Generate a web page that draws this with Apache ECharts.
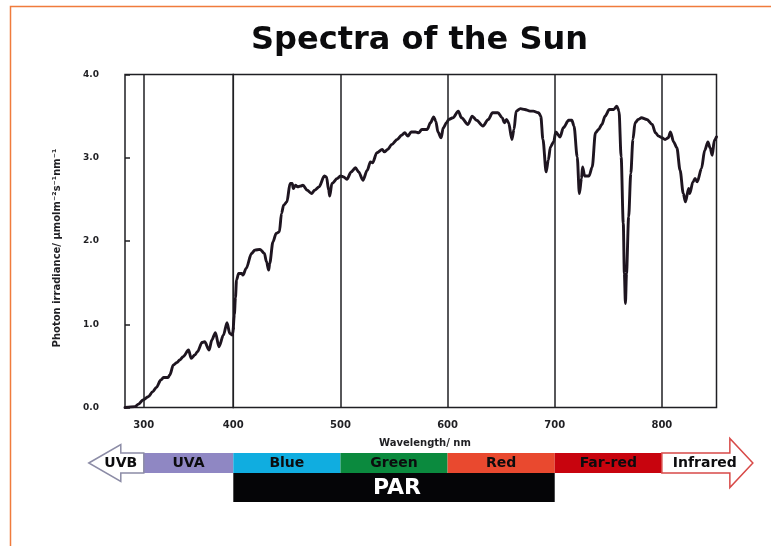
<!DOCTYPE html>
<html>
<head>
<meta charset="utf-8">
<script src="https://cdn.jsdelivr.net/npm/echarts@6/dist/echarts.min.js"></script>
<style>
  html, body { margin: 0; padding: 0; background: #ffffff; }
  #chart { width: 771px; height: 546px; }
</style>
</head>
<body>
<div id="chart"></div>
<script>
// Solar photon irradiance at ground level, µmol m-2 s-1 nm-1, against wavelength in nm
const wavelengths = [
  279, 290, 294, 299, 305, 310, 314, 319, 322, 327, 329, 333, 337, 340, 344, 350,
  353, 357, 360, 365, 368, 373, 376, 380, 384, 389, 393, 396, 399, 400,
  401, 402, 403, 405, 408, 409, 412, 417, 420, 425, 429, 431, 433, 434, 437, 440,
  443, 445, 447, 450, 453, 455, 456, 458, 460, 463, 465, 469, 473, 476, 480, 485,
  487, 489, 490, 492, 497, 500, 503, 506, 510, 514, 517, 521, 525, 528, 530, 534,
  539, 541, 544, 548, 553, 557, 560, 563, 566, 570, 573, 576, 581, 584, 587, 589,
  591, 594, 596, 599, 601, 605, 610, 613, 619, 623, 627, 633, 638, 642, 644, 647,
  651, 653, 655, 657, 660, 662, 664, 668, 672, 677, 680, 685, 687, 689, 692, 694,
  696, 699, 701, 705, 708, 713, 716, 718, 721, 723, 725, 726, 728, 732, 735, 738,
  741, 744, 747, 751, 755, 758, 760, 762, 764, 765, 766, 767, 769, 771, 773, 775,
  778, 781, 786, 791, 794, 797, 800, 803, 806, 808, 811, 814, 817, 820, 822, 825,
  826, 829, 831, 833, 837, 840, 843, 845, 847, 849, 851
];
const irradiance = [
  0.00, 0.01, 0.04, 0.09, 0.13, 0.19, 0.24, 0.33, 0.36, 0.36, 0.39, 0.51, 0.54, 0.57, 0.61, 0.69,
  0.59, 0.63, 0.67, 0.78, 0.79, 0.69, 0.81, 0.90, 0.73, 0.87, 1.02, 0.89, 0.87, 0.95,
  1.12, 1.32, 1.53, 1.61, 1.61, 1.59, 1.67, 1.85, 1.89, 1.90, 1.85, 1.75, 1.65, 1.73, 1.99, 2.09,
  2.11, 2.33, 2.43, 2.47, 2.69, 2.69, 2.63, 2.67, 2.65, 2.66, 2.67, 2.61, 2.57, 2.61, 2.65, 2.78,
  2.77, 2.61, 2.54, 2.69, 2.75, 2.78, 2.77, 2.74, 2.83, 2.88, 2.83, 2.73, 2.85, 2.95, 2.94, 3.06,
  3.10, 3.07, 3.10, 3.16, 3.22, 3.27, 3.30, 3.26, 3.31, 3.31, 3.30, 3.34, 3.34, 3.42, 3.49, 3.44,
  3.31, 3.24, 3.36, 3.42, 3.46, 3.48, 3.56, 3.48, 3.40, 3.50, 3.45, 3.38, 3.46, 3.54, 3.54, 3.54,
  3.48, 3.42, 3.46, 3.42, 3.22, 3.34, 3.56, 3.59, 3.58, 3.56, 3.56, 3.54, 3.50, 3.22, 2.83, 2.97,
  3.13, 3.19, 3.31, 3.25, 3.36, 3.45, 3.45, 3.38, 3.01, 2.57, 2.75, 2.89, 2.78, 2.78, 2.89, 3.30,
  3.34, 3.40, 3.50, 3.58, 3.58, 3.62, 3.56, 3.01, 2.21, 1.61, 1.25, 1.61, 2.29, 2.81, 3.22, 3.42,
  3.46, 3.48, 3.46, 3.40, 3.30, 3.26, 3.24, 3.22, 3.24, 3.31, 3.19, 3.12, 2.85, 2.57, 2.47, 2.63,
  2.57, 2.71, 2.75, 2.71, 2.87, 3.09, 3.19, 3.12, 3.03, 3.21, 3.25
];

// Axis ranges and tick values; the UV part of the axis is drawn at its own scale
const uvRange = [279, 400];
const visRange = [400, 851];
const uvTicks = [300, 400];
const visTicks = [500, 600, 700, 800];
const yTicks = [0, 1, 2, 3, 4];

// Spectral bands shown under the axis
const bandNames = ['UVA', 'Blue', 'Green', 'Red', 'Far-red'];
const bandEdges = [300, 400, 500, 600, 700, 800];
const bandColors = ['#8f87c3', '#10ade0', '#0b8a3e', '#e9492f', '#c8040e'];
const parRange = [400, 700];

const FONT = 'DejaVu Sans';
const INK = '#1f1f23';

const uvData = [], visData = [];
wavelengths.forEach((w, i) => {
  if (w <= 400) uvData.push([w, irradiance[i]]);
  if (w >= 400) visData.push([w, irradiance[i]]);
});

const chart = echarts.init(document.getElementById('chart'), null, { renderer: 'canvas' });

const gridBase = { top: 74.5, height: 333, show: true, borderColor: INK, borderWidth: 1.5, backgroundColor: 'transparent' };
const xLabel = { fontFamily: FONT, fontWeight: 'bold', fontSize: 10, color: INK, margin: 13 };
const curveStyle = { color: '#1e1520', width: 2.9, join: 'round', cap: 'round' };
const gridLineMark = (values) => ({
  silent: true, symbol: 'none', animation: false,
  label: { show: false },
  lineStyle: { color: INK, width: 1.5, type: 'solid' },
  emphasis: { disabled: true },
  data: values.map(v => ({ xAxis: v }))
});

chart.setOption({
  animation: false,
  backgroundColor: '#ffffff',
  title: {
    text: 'Spectra of the Sun',
    left: 246, top: 20,
    textStyle: { fontFamily: FONT, fontWeight: 'bold', fontSize: 32, color: '#0b0b0d' }
  },
  grid: [
    Object.assign({ left: 125, width: 108.3 }, gridBase),
    Object.assign({ left: 233.3, width: 483.2 }, gridBase)
  ],
  xAxis: [
    {
      type: 'value', gridIndex: 0, min: uvRange[0], max: uvRange[1],
      axisLine: { show: false }, axisTick: { show: false }, splitLine: { show: false },
      axisLabel: Object.assign({ customValues: uvTicks }, xLabel)
    },
    {
      type: 'value', gridIndex: 1, min: visRange[0], max: visRange[1],
      axisLine: { show: false }, axisTick: { show: false }, splitLine: { show: false },
      axisLabel: Object.assign({ customValues: visTicks }, xLabel)
    }
  ],
  yAxis: [
    {
      type: 'value', gridIndex: 0, min: yTicks[0], max: yTicks[yTicks.length - 1], interval: 1,
      name: 'Photon irradiance/ \u03bcmolm\u207b\u00b2s\u207b\u00b9nm\u207b\u00b9',
      nameLocation: 'middle', nameGap: 63, nameRotate: 90,
      nameTextStyle: { fontFamily: FONT, fontWeight: 'bold', fontSize: 10, color: INK, padding: [0, 14, 0, 0] },
      axisLine: { show: false },
      axisTick: { show: true, inside: true, length: 5, lineStyle: { color: INK, width: 1.5 } },
      splitLine: { show: false },
      axisLabel: {
        fontFamily: FONT, fontWeight: 'bold', fontSize: 9, color: INK, margin: 26,
        formatter: v => v.toFixed(1)
      }
    },
    {
      type: 'value', gridIndex: 1, min: yTicks[0], max: yTicks[yTicks.length - 1], interval: 1,
      show: false
    }
  ],
  series: [
    {
      type: 'line', xAxisIndex: 0, yAxisIndex: 0, data: uvData,
      showSymbol: false, smooth: 0.3, smoothMonotone: 'x',
      lineStyle: curveStyle, silent: true, z: 3,
      markLine: gridLineMark([uvTicks[0]])
    },
    {
      type: 'line', xAxisIndex: 1, yAxisIndex: 1, data: visData,
      showSymbol: false, smooth: 0.3, smoothMonotone: 'x',
      lineStyle: curveStyle, silent: true, z: 3,
      markLine: gridLineMark(visTicks)
    }
  ]
});

// Band strip below the axis, placed through the x axes
const px = (w) => chart.convertToPixel({ xAxisIndex: w < 400 ? 0 : 1 }, w);
const bandTop = 453, bandBottom = 473, parBottom = 502, bandMid = (bandTop + bandBottom) / 2;
const bandFont = { fontFamily: FONT, fontWeight: 'bold', fontSize: 14, fill: '#0c0c0e' };

const graphics = [];

// page frame lines
graphics.push({
  type: 'polyline', silent: true,
  shape: { points: [[10.5, 546], [10.5, 6.5], [771, 6.5]] },
  style: { stroke: '#f07b3c', lineWidth: 1.5, fill: null }
});

bandNames.forEach((name, i) => {
  const x0 = px(bandEdges[i]), x1 = px(bandEdges[i + 1]);
  graphics.push({
    type: 'rect', silent: true,
    shape: { x: x0, y: bandTop, width: x1 - x0, height: bandBottom - bandTop },
    style: { fill: bandColors[i] }
  });
  graphics.push({
    type: 'text', silent: true, x: (x0 + x1) / 2, y: bandMid + 0.5,
    style: Object.assign({ text: name, align: 'center', verticalAlign: 'middle' }, bandFont)
  });
});

// UVB arrow pointing to shorter wavelengths
const xUv = px(bandEdges[0]);
graphics.push({
  type: 'polygon', silent: true,
  shape: { points: [
    [xUv - 55, bandMid], [xUv - 23, bandMid - 18.5], [xUv - 23, bandTop], [xUv, bandTop],
    [xUv, bandBottom], [xUv - 23, bandBottom], [xUv - 23, bandMid + 18.5]
  ] },
  style: { fill: '#ffffff', stroke: '#8c8ca6', lineWidth: 1.5 }
});
graphics.push({
  type: 'text', silent: true, x: xUv - 23, y: bandMid + 0.5,
  style: Object.assign({ text: 'UVB', align: 'center', verticalAlign: 'middle' }, bandFont)
});

// Infrared arrow pointing to longer wavelengths
const xIr = px(bandEdges[bandEdges.length - 1]);
graphics.push({
  type: 'polygon', silent: true,
  shape: { points: [
    [xIr, bandTop], [xIr + 68, bandTop], [xIr + 68, bandMid - 24.5], [xIr + 91, bandMid],
    [xIr + 68, bandMid + 24.5], [xIr + 68, bandBottom], [xIr, bandBottom]
  ] },
  style: { fill: '#ffffff', stroke: '#d84a48', lineWidth: 1.5 }
});
graphics.push({
  type: 'text', silent: true, x: xIr + 43, y: bandMid + 0.5,
  style: Object.assign({ text: 'Infrared', align: 'center', verticalAlign: 'middle' }, bandFont)
});

// PAR bar
const xP0 = px(parRange[0]), xP1 = px(parRange[1]);
graphics.push({
  type: 'rect', silent: true,
  shape: { x: xP0, y: bandBottom, width: xP1 - xP0, height: parBottom - bandBottom },
  style: { fill: '#050507' }
});
graphics.push({
  type: 'text', silent: true, x: (xP0 + xP1) / 2 + 3, y: (bandBottom + parBottom) / 2 + 1,
  style: { text: 'PAR', align: 'center', verticalAlign: 'middle', fontFamily: FONT, fontWeight: 'bold', fontSize: 22, fill: '#ffffff' }
});

// x axis name
graphics.push({
  type: 'text', silent: true, x: 425, y: 443,
  style: { text: 'Wavelength/ nm', align: 'center', verticalAlign: 'middle', fontFamily: FONT, fontWeight: 'bold', fontSize: 10, fill: INK }
});

chart.setOption({ graphic: graphics });
</script>
</body>
</html>
